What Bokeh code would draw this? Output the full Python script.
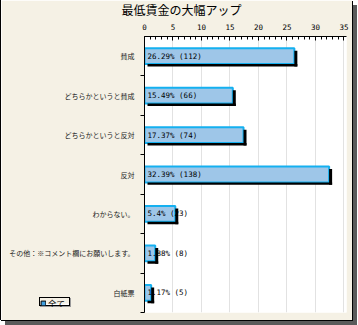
from bokeh.plotting import figure
from bokeh.layouts import column
from bokeh.models import (ColumnDataSource, Range1d, FixedTicker, SingleIntervalTicker,
                          Legend, LegendItem)
from bokeh.core.properties import value
from bokeh.embed import file_html
from bokeh.resources import INLINE

title = "最低賃金の大幅アップ"
categories = ["賛成", "どちらかというと賛成", "どちらかというと反対", "反対",
              "わからない。", "その他：※コメント欄にお願いします。", "白紙票"]
percents = [26.29, 15.49, 17.37, 32.39, 5.4, 1.88, 1.17]
counts = [112, 66, 74, 138, 23, 8, 5]
legend_label = "全て"

# canvas is shifted 1px right by a CSS left border
W, H = 352, 320
FL, FT, FR, FB = 143, 34, 345, 312
x_end = 35.44
px_x = (FR - FL) / x_end
n = len(categories)
px_y = (FB - FT) / n
BAR_H = 0.4
SX, SY = 3 / px_x, 2.5 / px_y   # drop-shadow offsets in data units

ys = list(range(n))
labels = [f"{p}% ({c})" for p, c in zip(percents, counts)]
src = ColumnDataSource(dict(
    y=ys, pct=percents, label=labels,
    y_right=[y + SY for y in ys],
    x_right_end=[p + SX for p in percents],
    y_bottom=[y + BAR_H / 2 + SY / 2 for y in ys],
    x_bottom_start=[SX] * n,
))

p = figure(width=W, height=H, output_backend="svg", toolbar_location=None,
           x_axis_location="above",
           x_range=Range1d(0, x_end), y_range=Range1d(n - 0.5, -0.5),
           min_border_left=FL, min_border_right=W - FR,
           min_border_top=FT, min_border_bottom=H - FB)
p.border_fill_color = "#F5F1E5"
p.background_fill_color = "white"
p.outline_line_color = None
p.styles = {"border-left": "1px solid #000000",
            "box-shadow": "1px 1px 0 0 #000000, 5px 5px 0 0 #5A5A5A"}

p.title.text = title
p.title.align = "left"
p.title.offset = 120 - FL
p.title.vertical_align = "top"
p.title.standoff = 1
p.title.text_font = "Noto Sans CJK JP"
p.title.text_font_size = "12px"
p.title.text_font_style = "normal"
p.title.text_color = "black"

# bars, their value labels, then the drop shadow (which overlaps the labels)
bars = p.hbar(y="y", left=0, right="pct", height=BAR_H, source=src,
              fill_color="#9EC6E8", line_color="#14B0F0", line_width=2)
p.text(x=0, y="y", text="label", source=src, x_offset=3,
       text_baseline="middle", text_align="left",
       text_font=value("DejaVu Sans Mono"), text_font_size="7.5px",
       text_color="black")
p.hbar(y="y_right", left="pct", right="x_right_end", height=BAR_H, source=src,
       fill_color="black", line_color=None)
p.hbar(y="y_bottom", left="x_bottom_start", right="x_right_end", height=SY,
       source=src, fill_color="black", line_color=None)

# top axis
xa = p.xaxis[0]
xa.ticker = SingleIntervalTicker(interval=5, num_minor_ticks=5)
xa.major_tick_in = 4
xa.major_tick_out = 0
xa.minor_tick_in = 3
xa.minor_tick_out = 0
xa.axis_line_color = "black"
xa.major_tick_line_color = "black"
xa.minor_tick_line_color = "black"
xa.major_label_text_font = "DejaVu Sans Mono"
xa.major_label_text_font_size = "7.5px"
xa.major_label_text_color = "black"
xa.major_label_standoff = 7

# left axis
ya = p.yaxis[0]
ya.ticker = FixedTicker(ticks=ys, minor_ticks=[y + 0.5 for y in ys])
ya.major_label_overrides = {i: c for i, c in enumerate(categories)}
ya.major_tick_in = 0
ya.major_tick_out = 0
ya.minor_tick_in = 0
ya.minor_tick_out = 4
ya.minor_tick_line_color = "black"
ya.axis_line_color = "black"
ya.major_label_text_font = "Noto Sans CJK JP"
ya.major_label_text_font_size = "7px"
ya.major_label_text_color = "#222222"
ya.major_label_standoff = 6

p.xgrid.grid_line_color = "#E2E2E2"
p.ygrid.grid_line_color = None

# small legend box overlaid at the lower left of the chart panel
lg = figure(width=31, height=9, output_backend="svg", toolbar_location=None,
            x_axis_location=None, y_axis_location=None,
            x_range=Range1d(-10, -9), y_range=Range1d(-10, -9),
            min_border=0)
lg.border_fill_color = "white"
lg.background_fill_color = "white"
lg.outline_line_color = None
lg.grid.visible = False
swatch = lg.hbar(y="y", left=0, right="pct", height=0.4, source=src,
                 fill_color="#3FA0E0", line_color="black", line_width=1)
legend = Legend(items=[LegendItem(label=legend_label, renderers=[swatch])],
                location="left", orientation="horizontal",
                border_line_color=None, background_fill_color=None,
                label_text_font="Noto Sans CJK JP", label_text_font_size="8.5px",
                label_text_color="black",
                glyph_width=6, glyph_height=6, padding=5, margin=0, spacing=0,
                label_standoff=2, label_height=8)
lg.add_layout(legend)
lg.styles = {"position": "absolute", "left": "39px", "top": "297px",
             "border": "1px solid #000000",
             "box-shadow": "1px 1px 0 0 #9A9A9A"}

layout = column(p, lg)
open("out.html", "w").write(file_html(layout, INLINE))
